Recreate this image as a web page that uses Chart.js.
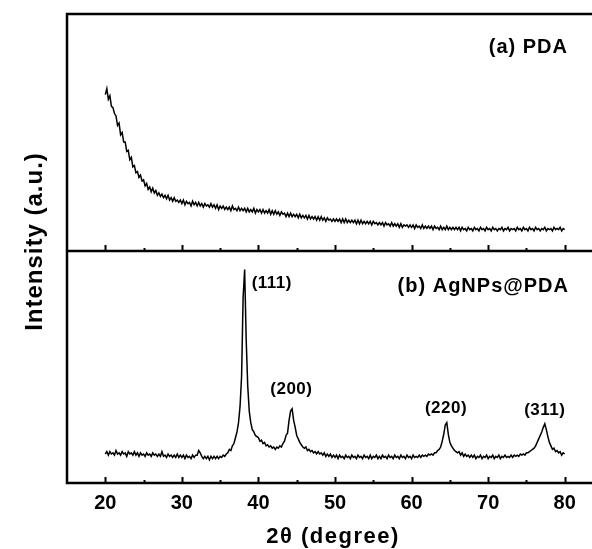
<!DOCTYPE html>
<html>
<head>
<meta charset="utf-8">
<script src="https://cdn.jsdelivr.net/npm/chart.js@4.4.1/dist/chart.umd.min.js"></script>
<style>
  html, body { margin: 0; padding: 0; background: #fff; overflow: hidden; }
</style>
</head>
<body>
<canvas id="xrd" width="620" height="549"></canvas>
<script>
// scan grid (degrees 2θ)
const twoThetaStart = 20;
const twoThetaStep = 0.2;

// (a) PDA (a.u., 0-100 of panel height)
const pdaIntensity = [
    66, 68.5, 64, 65.5, 61, 60.5, 58, 57, 53, 54,
    49, 50, 46, 46, 42, 42.5, 38.5, 39.5, 35.5, 36,
    33, 33.5, 31, 32, 29.5, 30, 27.5, 28.5, 26, 27,
    25, 26.5, 24.5, 25.5, 23.5, 24.5, 23, 24, 22.5, 23.5,
    22, 23.5, 21.5, 22.5, 21, 22.5, 21, 21.5, 20.5, 21.5,
    20, 21.5, 19.5, 21, 20, 20.5, 19, 21, 19.5, 20.5,
    19, 20.5, 19, 20, 18.5, 20, 19, 19.5, 18.5, 20,
    18.5, 19.5, 18, 19.5, 17.5, 19, 18, 19, 17.5, 18.5,
    17.5, 18.5, 17, 19, 17.5, 18, 17, 18.5, 17, 18,
    17, 18, 16.5, 18, 16.5, 17.5, 16.5, 18, 16, 17.5,
    16.5, 17.5, 16, 17.5, 16, 17, 16, 17.5, 15.5, 17,
    15.5, 17, 15.5, 16.5, 15, 16.5, 15.5, 16, 14.5, 16,
    14.5, 16, 14.5, 15.5, 14.5, 15.5, 14, 15.5, 14, 15,
    14, 15, 13.5, 15, 13.5, 14.5, 13.5, 14.5, 13, 14.5,
    13, 14.5, 13, 14, 12.5, 14, 13, 13.5, 12.5, 13.5,
    12.5, 13.5, 12.5, 13.5, 12, 13.5, 12, 13.5, 12, 13,
    12, 13, 12, 13, 11.5, 13, 11.5, 13, 11.5, 12.5,
    11.5, 12.5, 11.5, 12.5, 11, 12.5, 11.5, 12, 11, 12,
    11, 12, 10.5, 12, 11, 11.5, 10.5, 12, 10.5, 11.5,
    10.5, 11.5, 10, 11.5, 10, 11, 10.5, 11, 10, 11,
    10, 11, 9.5, 11, 10, 10.5, 9.5, 11, 9.5, 10.5,
    9.5, 10.5, 9.5, 10.5, 9, 10.5, 9.5, 10, 9, 10.5,
    9, 10, 9, 10.5, 9, 10, 9, 10, 9, 10,
    9, 10, 8.5, 10, 9, 9.5, 8.5, 10, 9, 9.5,
    8.5, 10, 9, 9.5, 8.5, 10, 9, 9.5, 8.5, 10,
    9, 9.5, 8.5, 10, 9, 9.5, 8.5, 9.5, 9, 10,
    8.5, 9.5, 9, 10, 8.5, 9.5, 9, 9.5, 8.5, 10,
    9, 9.5, 8.5, 10, 9, 9.5, 8.5, 10, 9, 9.5,
    8.5, 10, 9, 9.5, 8.5, 9.5, 9, 10, 8.5, 9.5,
    9, 9.5, 8.5, 10, 9, 9.5, 9, 10, 8.5, 9.5,
    9
];

// (b) AgNPs@PDA, lower panel
const agPdaIntensity = [
    12.5, 13.5, 12, 13.5, 12.5, 13, 12, 14, 12.5, 13,
    12, 13.5, 12.5, 13, 11.5, 13.5, 12.5, 13, 12, 13.5,
    12, 13, 11.5, 13, 12, 12.5, 11.5, 13, 12, 12.5,
    11.5, 13, 12, 12.5, 11.5, 12.5, 11.5, 13.5, 11.5, 12,
    11, 12.5, 11.5, 12, 11, 12, 11, 12.5, 11, 12,
    11, 12, 10.5, 12, 11, 11.5, 10.5, 12, 11, 12,
    12, 14, 13, 11.5, 10.5, 11.5, 10.5, 11.5, 10, 11.5,
    10.5, 11.5, 10.5, 11.5, 10.5, 11.5, 11, 12, 11.5, 12.5,
    13, 14.5, 14, 16, 17, 19.5, 22, 26, 33, 46,
    80, 92, 62, 42, 31, 26, 23, 22, 20.5, 20,
    19.5, 18, 18.5, 17, 17.5, 16, 16.5, 15.5, 16, 15,
    15.5, 14.5, 15.5, 15, 16, 15.5, 17, 18, 20.5, 21.5,
    27, 31, 32, 27, 24, 20.5, 19, 17.5, 16.5, 15.5,
    15, 15.5, 14, 14.5, 13.5, 14, 13, 13.5, 12.5, 13.5,
    12.5, 13, 12, 13, 11.5, 12.5, 11.5, 12.5, 11, 12,
    11, 12, 10.5, 12, 11, 11.5, 10.5, 12, 11, 11.5,
    10.5, 12, 11, 11.5, 10.5, 12, 11, 11.5, 10.5, 12,
    11, 11.5, 10.5, 12, 10.5, 11.5, 11, 12, 10.5, 11.5,
    10.5, 12, 11, 11.5, 10.5, 12, 11, 11.5, 10.5, 12,
    11, 11.5, 10.5, 12, 11, 11.5, 10.5, 12, 11, 11.5,
    10.5, 12, 11, 11.5, 11, 12, 11, 12, 11.5, 12,
    11.5, 12.5, 12, 12.5, 12, 13, 13, 14, 14.5, 15.5,
    18, 21, 25, 26, 21, 17.5, 16, 15, 14, 13.5,
    13, 13.5, 12, 13, 11.5, 12.5, 11.5, 12, 11, 12,
    11, 12, 10.5, 11.5, 11, 12, 10.5, 11.5, 11, 12,
    10.5, 11.5, 11, 12, 10.5, 11.5, 11, 12, 10.5, 11.5,
    11, 12, 11, 11.5, 11, 12, 11, 12, 11.5, 12,
    11.5, 12.5, 12, 12.5, 12, 13, 13, 13.5, 14, 14.5,
    15, 16, 17.5, 19, 20.5, 22, 24, 25.5, 23, 20,
    17.5, 16, 14.5, 15, 13.5, 14, 13, 13.5, 12, 13,
    12.5
];

// reflections
const peakLabels = ['(111)', '(200)', '(220)', '(311)'];
const peakAngles = [38.2, 44.3, 64.5, 77.4];

const panelTitles = ['(a) PDA', '(b) AgNPs@PDA'];

const toPoints = (vals) => vals.map((v, i) => ({ x: +(twoThetaStart + i * twoThetaStep).toFixed(1), y: v }));

const FONT = "'Liberation Sans', Arial, sans-serif";

// frame, divider, inward ticks and the text annotations
const framePlugin = {
    id: 'frame',
    afterDraw(chart) {
        const { ctx, chartArea: a, scales } = chart;
        const xs = scales.x;
        const divY = scales.yTop.bottom;
        ctx.save();
        ctx.strokeStyle = '#000';
        ctx.lineWidth = 2.5;
        ctx.strokeRect(a.left, a.top, a.right - a.left, a.bottom - a.top);
        ctx.beginPath();
        ctx.moveTo(a.left, divY);
        ctx.lineTo(a.right, divY);
        ctx.stroke();

        ctx.lineWidth = 2;
        xs.ticks.forEach(t => {
            if (t.value <= xs.min || t.value >= xs.max) return;
            const px = Math.round(xs.getPixelForValue(t.value)) + 0.5;
            const len = t.value % 10 === 0 ? 6 : 3;
            ctx.beginPath();
            ctx.moveTo(px, a.bottom); ctx.lineTo(px, a.bottom - len);
            ctx.moveTo(px, divY); ctx.lineTo(px, divY - len);
            ctx.stroke();
        });

        ctx.fillStyle = '#000';
        // y title
        ctx.save();
        ctx.translate(42, 241.5);
        ctx.rotate(-Math.PI / 2);
        ctx.font = `bold 24px ${FONT}`;
        ctx.letterSpacing = '1px';
        ctx.textAlign = 'center';
        ctx.textBaseline = 'alphabetic';
        ctx.fillText('Intensity (a.u.)', 0, 0);
        ctx.restore();

        // x title
        ctx.font = `bold 22px ${FONT}`;
        ctx.letterSpacing = '1.5px';
        ctx.textAlign = 'center';
        ctx.textBaseline = 'alphabetic';
        ctx.fillText('2θ (degree)', 333, 543);

        // panel titles
        ctx.font = `bold 20px ${FONT}`;
        ctx.letterSpacing = '1px';
        ctx.textAlign = 'right';
        ctx.fillText(panelTitles[0], 568, 53);
        ctx.fillText(panelTitles[1], 569, 292);

        // peak labels
        const yb = scales.yBot;
        const offsets = [[7, 18, 'left'], [0, -15, 'center'], [0, -10, 'center'], [0, -9, 'center']];
        ctx.font = `bold 17px ${FONT}`;
        ctx.letterSpacing = '0.5px';
        peakLabels.forEach((lbl, i) => {
            const idx = Math.round((peakAngles[i] - twoThetaStart) / twoThetaStep);
            let top = agPdaIntensity[idx];
            for (let k = idx - 2; k <= idx + 2; k++) top = Math.max(top, agPdaIntensity[k]);
            const [dx, dy, align] = offsets[i];
            ctx.textAlign = align;
            ctx.fillText(lbl, xs.getPixelForValue(peakAngles[i]) + dx, yb.getPixelForValue(top) + dy);
        });
        ctx.restore();
    }
};

const noWidth = (s) => { s.width = 0; };

new Chart(document.getElementById('xrd'), {
    type: 'line',
    data: {
        datasets: [
            {
                label: 'PDA',
                data: toPoints(pdaIntensity),
                yAxisID: 'yTop',
                borderColor: '#000',
                borderWidth: 1.5,
                pointRadius: 0,
                tension: 0
            },
            {
                label: 'AgNPs@PDA',
                data: toPoints(agPdaIntensity),
                yAxisID: 'yBot',
                borderColor: '#000',
                borderWidth: 1.5,
                pointRadius: 0,
                tension: 0
            }
        ]
    },
    plugins: [framePlugin],
    options: {
        responsive: false,
        animation: false,
        devicePixelRatio: 1,
        layout: { padding: { left: 67, right: 17, top: 14, bottom: 0 } },
        plugins: {
            legend: { display: false },
            tooltip: { enabled: false }
        },
        scales: {
            x: {
                type: 'linear',
                min: 15,
                max: 85,
                grid: { display: false },
                border: { display: false },
                afterFit: (s) => { s.height = 66; },
                ticks: {
                    stepSize: 5,
                    autoSkip: false,
                    maxRotation: 0,
                    padding: 0,
                    color: '#000',
                    font: { family: FONT, size: 20, weight: 'bold' },
                    callback: (v) => (v % 10 === 0 ? v : '')
                }
            },
            // stacked panels: first listed is placed at the bottom
            yBot: {
                type: 'linear',
                position: 'left',
                stack: 'xrd',
                stackWeight: 232,
                min: 0,
                max: 100,
                grid: { display: false },
                border: { display: false },
                ticks: { display: false },
                afterFit: noWidth
            },
            yTop: {
                type: 'linear',
                position: 'left',
                stack: 'xrd',
                stackWeight: 237,
                min: 0,
                max: 100,
                grid: { display: false },
                border: { display: false },
                ticks: { display: false },
                afterFit: noWidth
            }
        }
    }
});
</script>
</body>
</html>
